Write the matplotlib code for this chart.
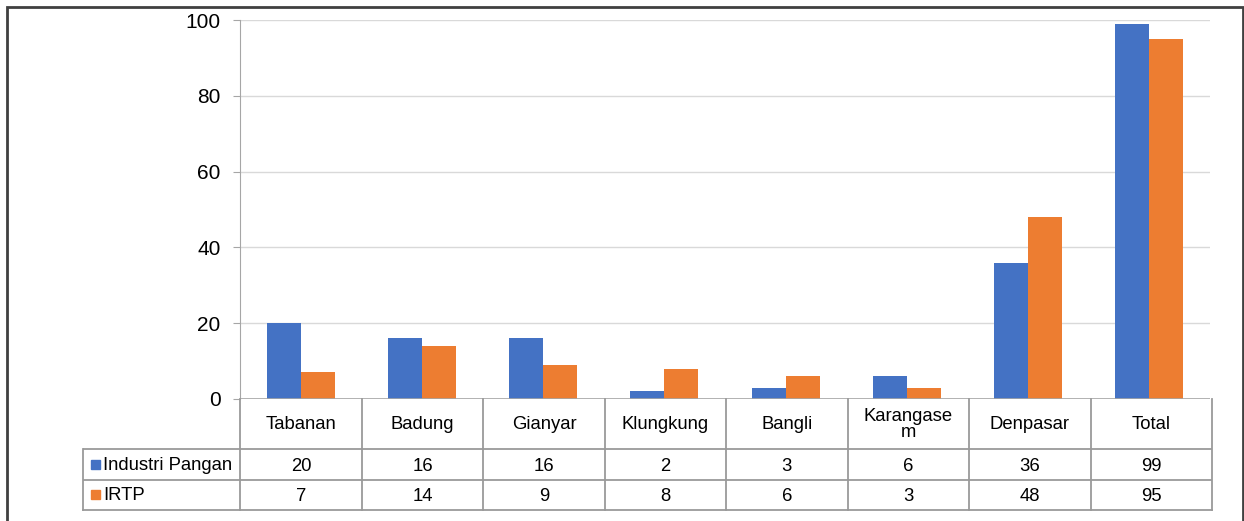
import numpy as np
import matplotlib
matplotlib.use("Agg")
from matplotlib import pyplot as plt
from matplotlib.patches import Rectangle

plt.rcParams["font.family"] = ["Liberation Sans", "DejaVu Sans"]

categories = ["Tabanan", "Badung", "Gianyar", "Klungkung", "Bangli", "Karangase\nm", "Denpasar", "Total"]
industri_pangan = [20, 16, 16, 2, 3, 6, 36, 99]
irtp = [7, 14, 9, 8, 6, 3, 48, 95]
series_names = ["Industri Pangan", "IRTP"]
colors = ["#4472C4", "#ED7D31"]

W, H = 1244, 521
fig = plt.figure(figsize=(W / 100, H / 100), dpi=100)

def px(x0, y0, x1, y1):
    # pixel box -> figure fraction [left, bottom, width, height]
    return [x0 / W, 1 - y1 / H, (x1 - x0) / W, (y1 - y0) / H]

# main chart
ax = fig.add_axes(px(240, 20, 1210, 399))
x = np.arange(len(categories))
bw = 0.28
ax.bar(x - bw / 2, industri_pangan, bw, color=colors[0], zorder=3)
ax.bar(x + bw / 2, irtp, bw, color=colors[1], zorder=3)
ax.set_xlim(-0.5, len(categories) - 0.5)
ax.set_ylim(0, 100)
ax.set_yticks(range(0, 101, 20))
ax.yaxis.grid(True, color="#d9d9d9", linewidth=1, zorder=0)
ax.set_xticks([])
for s in ["top", "right", "bottom"]:
    ax.spines[s].set_visible(False)
ax.spines["left"].set_color("#a6a6a6")
ax.tick_params(axis="y", length=5, color="#a6a6a6", labelsize=15, pad=9)
ax.axhline(0, color="#a6a6a6", linewidth=1.2, zorder=4)

# data table below
tx0 = 83
fs = 13.3
left_units = -0.5 - (240 - tx0) / ((1210 - 240) / len(categories))
tab = fig.add_axes(px(tx0, 399, 1212, 510))
tab.set_xlim(left_units, len(categories) - 0.5)
tab.set_ylim(110, 0)
tab.axis("off")
lc = "#9a9a9a"
lw = 1.3
tab.plot([left_units, len(categories) - 0.5], [50, 50], color=lc, lw=lw)
tab.plot([left_units, len(categories) - 0.5], [80, 80], color=lc, lw=lw)
tab.plot([left_units, len(categories) - 0.5], [110, 110], color=lc, lw=lw, clip_on=False)
for b in np.arange(-0.5, len(categories) + 0.5, 1):
    tab.plot([b, b], [0, 110], color=lc, lw=lw, clip_on=False)
tab.plot([left_units, left_units], [50, 110], color=lc, lw=lw, clip_on=False)

for i, c in enumerate(categories):
    tab.text(i, 25, c, ha="center", va="center", fontsize=fs, linespacing=0.95)
for r, (vals, name, col) in enumerate(zip([industri_pangan, irtp], series_names, colors)):
    yc = 65 + 30 * r
    for i, v in enumerate(vals):
        tab.text(i, yc, str(v), ha="center", va="center_baseline", fontsize=fs)
    fig.patches.append(Rectangle(((tx0 + 8) / W, 1 - (399 + yc + 5) / H), 9 / W, 9 / H,
                                 transform=fig.transFigure, color=col))
    fig.text((tx0 + 20) / W, 1 - (399 + yc) / H, name, ha="left", va="center_baseline", fontsize=fs)

# outer frame
fig.patches.append(Rectangle((7 / W, -0.1), (1243 - 7) / W, 1.1 - 7 / H,
                             transform=fig.transFigure, fill=False,
                             edgecolor="#404040", linewidth=2))

fig.savefig("out.png", dpi=100)
